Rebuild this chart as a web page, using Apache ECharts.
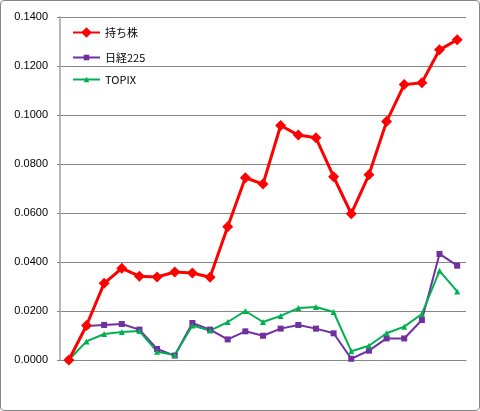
<!DOCTYPE html>
<html lang="ja">
<head>
    <meta charset="UTF-8">
    <title>持ち株</title>
    <style>
        html, body { margin: 0; padding: 0; background: #fff; }
        #main {
            width: 478px;
            height: 409px;
            border: 1px solid #868686;
            border-radius: 4px;
        }
    </style>
</head>
<body>
    <div id="main"></div>
    <script src="https://cdn.jsdelivr.net/npm/echarts@6/dist/echarts.min.js"></script>
    <script type="text/javascript">
        // 23 periods, no x labels in the original
        var periods = [];
        for (var i = 1; i <= 23; i++) { periods.push(String(i)); }

        var mochikabu = [0.0000, 0.0141, 0.0313, 0.0374, 0.0342, 0.0339, 0.0359, 0.0355, 0.0338,
            0.0544, 0.0744, 0.0718, 0.0957, 0.0918, 0.0907, 0.0748, 0.0597, 0.0756,
            0.0973, 0.1124, 0.1132, 0.1266, 0.1307];
        var nikkei225 = [0.0000, 0.0139, 0.0143, 0.0147, 0.0124, 0.0045, 0.0018, 0.0151, 0.0124,
            0.0084, 0.0117, 0.0099, 0.0128, 0.0143, 0.0128, 0.0109, 0.0005, 0.0038,
            0.0088, 0.0088, 0.0163, 0.0433, 0.0385];
        var topix = [0.0000, 0.0076, 0.0106, 0.0114, 0.0118, 0.0034, 0.0020, 0.0141, 0.0120,
            0.0155, 0.0200, 0.0155, 0.0180, 0.0212, 0.0216, 0.0196, 0.0036, 0.0058,
            0.0109, 0.0136, 0.0188, 0.0364, 0.0280];
        var yTicks = { min: 0, max: 0.14, step: 0.02 };

        var myChart = echarts.init(document.getElementById('main'));

        // one legend per series so each icon keeps its own marker size
        function legendFor(name, top, h) {
            return {
                orient: 'vertical',
                left: 71,
                top: top,
                padding: 0,
                itemWidth: 27,
                itemHeight: h,
                textStyle: {
                    fontFamily: 'Noto Sans CJK JP',
                    fontSize: 11,
                    color: '#000'
                },
                data: [name]
            };
        }

        var option = {
            animation: false,
            textStyle: { fontFamily: 'Liberation Sans, Arial, sans-serif' },
            legend: [
                legendFor('持ち株', 26, 13),
                legendFor('日経225', 51, 7),
                legendFor('TOPIX', 73, 7)
            ],
            grid: {
                left: 59,
                right: 13,
                top: 16,
                bottom: 50
            },
            xAxis: {
                type: 'category',
                data: periods,
                boundaryGap: true,
                axisTick: { show: false },
                axisLabel: { show: false },
                axisLine: { lineStyle: { color: '#868686', width: 1 } }
            },
            yAxis: {
                type: 'value',
                min: yTicks.min,
                max: yTicks.max,
                interval: yTicks.step,
                axisLine: { show: true, lineStyle: { color: '#b8b8b8', width: 2 } },
                axisTick: { show: true, length: 3, lineStyle: { color: '#868686' } },
                splitLine: { lineStyle: { color: '#868686', width: 1 } },
                axisLabel: {
                    color: '#000',
                    fontSize: 11,
                    margin: 12,
                    formatter: function (v) { return v.toFixed(4); }
                }
            },
            series: [{
                name: '持ち株',
                type: 'line',
                data: mochikabu,
                symbol: 'diamond',
                symbolSize: 11,
                color: '#ff0000',
                lineStyle: { width: 3, color: '#ff0000' },
                itemStyle: { color: '#ff0000' },
                z: 3
            }, {
                name: '日経225',
                type: 'line',
                data: nikkei225,
                symbol: 'rect',
                symbolSize: 6,
                color: '#7030a0',
                lineStyle: { width: 2, color: '#7030a0' },
                itemStyle: { color: '#7030a0' },
                z: 2
            }, {
                name: 'TOPIX',
                type: 'line',
                data: topix,
                symbol: 'triangle',
                symbolSize: 6,
                color: '#00b050',
                lineStyle: { width: 2, color: '#00b050' },
                itemStyle: { color: '#00b050' },
                z: 2
            }]
        };

        myChart.setOption(option);
    </script>
</body>
</html>
